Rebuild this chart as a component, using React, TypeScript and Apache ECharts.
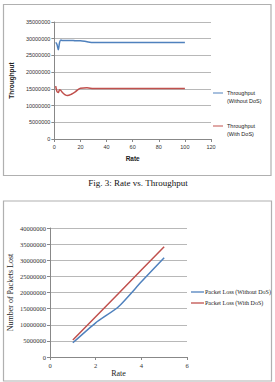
import React, { useEffect, useRef } from "react";
import * as echarts from "echarts";

const rateTop = [1, 2, 3, 4, 5, 6, 8, 10, 13, 16, 20, 25, 30, 40, 50, 60, 70, 80, 90, 100];
const throughputWithout = [
  28900000, 28300000, 26700000, 28900000, 29600000, 29500000, 29500000, 29500000, 29500000, 29400000,
  29400000, 29100000, 28900000, 28900000, 28900000, 28900000, 28900000, 28900000, 28900000, 28900000,
];
const throughputWith = [
  15800000, 14200000, 13900000, 14700000, 14500000, 14000000, 13300000, 13000000, 13400000, 14100000,
  15200000, 15300000, 15100000, 15100000, 15100000, 15100000, 15100000, 15100000, 15100000, 15100000,
];
const topLegend = ["Throughput\n(Without DoS)", "Throughput\n(With DoS)"];

const rateBottom = [1, 2, 3, 4, 5];
const lossWithout = [4400000, 10600000, 15600000, 23300000, 30800000];
const lossWith = [5300000, 12500000, 19700000, 27000000, 34200000];
const bottomLegend = ["Packet Loss (Without DoS)", "Packet Loss (With DoS)"];

const caption = "Fig. 3: Rate vs. Throughput";

const BLUE = "#4F81BD";
const RED = "#C0504D";
const GRID = "#b8b8b8";
const SANS = "'Liberation Sans', Arial, sans-serif";
const SERIF = "'Liberation Serif', 'Times New Roman', serif";
const plain = (v: number) => String(v);
const LINE_ICON = "path://M0,0 L10,0 L10,1 L0,1 Z";

export default function App() {
  const ref = useRef<HTMLDivElement>(null);
  useEffect(() => {
    if (!ref.current) return;
    const chart = echarts.init(ref.current, undefined, { renderer: "svg" });
    const pair = (xs: number[], ys: number[]) => xs.map((x, i) => [x, ys[i]]);
    chart.setOption({
      animation: false,
      backgroundColor: "#ffffff",
      grid: [
        { left: 49, right: 64, top: 22, bottom: 243, containLabel: false },
        { left: 50, right: 88, top: 228, bottom: 25, containLabel: false },
      ],
      legend: [
        {
          data: [topLegend[0], topLegend[1]],
          orient: "vertical",
          left: 208,
          top: 76,
          itemWidth: 10,
          itemHeight: 1.5,
          itemGap: 9,
          icon: LINE_ICON,
          textStyle: { fontFamily: SANS, fontSize: 5.5, color: "#222", lineHeight: 8, padding: [0, 0, 0, -1] },
          formatter: (n: string) => "\n" + n,
        },
        {
          data: [bottomLegend[0], bottomLegend[1]],
          orient: "vertical",
          left: 186,
          top: 284,
          itemWidth: 13,
          itemHeight: 1.5,
          itemGap: 5,
          icon: LINE_ICON,
          textStyle: { fontFamily: SERIF, fontSize: 6, color: "#222", padding: [0, 0, 0, -4] },
        },
      ],
      xAxis: [
        {
          gridIndex: 0,
          type: "value",
          min: 0,
          max: 120,
          interval: 20,
          name: "Rate",
          nameLocation: "middle",
          nameGap: 16,
          nameTextStyle: { fontFamily: SANS, fontSize: 6.5, fontWeight: "bold", color: "#222" },
          axisLine: { lineStyle: { color: "#888", width: 1 } },
          axisTick: { show: true, length: 3, lineStyle: { color: "#888" } },
          axisLabel: { fontFamily: SANS, fontSize: 5.5, color: "#333", margin: 5, formatter: plain },
          splitLine: { show: false },
        },
        {
          gridIndex: 1,
          type: "value",
          min: 0,
          max: 6,
          interval: 2,
          name: "Rate",
          nameLocation: "middle",
          nameGap: 11,
          nameTextStyle: { fontFamily: SERIF, fontSize: 8, color: "#222" },
          axisLine: { lineStyle: { color: "#888", width: 1 } },
          axisTick: { show: true, length: 3, lineStyle: { color: "#888" } },
          axisLabel: { fontFamily: SERIF, fontSize: 6.5, color: "#333", margin: 5, formatter: plain },
          splitLine: { show: false },
        },
      ],
      yAxis: [
        {
          gridIndex: 0,
          type: "value",
          min: 0,
          max: 35000000,
          interval: 5000000,
          name: "Throughput",
          nameLocation: "middle",
          nameGap: 35,
          nameTextStyle: { fontFamily: SANS, fontSize: 6.5, fontWeight: "bold", color: "#222" },
          axisLine: { show: true, lineStyle: { color: "#888", width: 1 } },
          axisTick: { show: true, length: 3, lineStyle: { color: "#888" } },
          axisLabel: { fontFamily: SANS, fontSize: 5.5, color: "#333", margin: 4, formatter: plain },
          splitLine: { show: true, lineStyle: { color: GRID, width: 1 } },
        },
        {
          gridIndex: 1,
          type: "value",
          min: 0,
          max: 40000000,
          interval: 5000000,
          name: "Number of Packets Lost",
          nameLocation: "middle",
          nameGap: 36,
          nameTextStyle: { fontFamily: SERIF, fontSize: 8, color: "#222" },
          axisLine: { show: true, lineStyle: { color: "#888", width: 1 } },
          axisTick: { show: true, length: 3, lineStyle: { color: "#888" } },
          axisLabel: { fontFamily: SERIF, fontSize: 6.5, color: "#333", margin: 4, formatter: plain },
          splitLine: { show: true, lineStyle: { color: GRID, width: 1 } },
        },
      ],
      series: [
        {
          name: topLegend[0],
          type: "line",
          xAxisIndex: 0,
          yAxisIndex: 0,
          data: pair(rateTop, throughputWithout),
          smooth: 0.3,
          showSymbol: false,
          lineStyle: { color: BLUE, width: 1.5 },
          itemStyle: { color: BLUE },
        },
        {
          name: topLegend[1],
          type: "line",
          xAxisIndex: 0,
          yAxisIndex: 0,
          data: pair(rateTop, throughputWith),
          smooth: 0.3,
          showSymbol: false,
          lineStyle: { color: RED, width: 1.5 },
          itemStyle: { color: RED },
        },
        {
          name: bottomLegend[0],
          type: "line",
          xAxisIndex: 1,
          yAxisIndex: 1,
          data: pair(rateBottom, lossWithout),
          smooth: 0.2,
          showSymbol: false,
          lineStyle: { color: BLUE, width: 1.5 },
          itemStyle: { color: BLUE },
        },
        {
          name: bottomLegend[1],
          type: "line",
          xAxisIndex: 1,
          yAxisIndex: 1,
          data: pair(rateBottom, lossWith),
          showSymbol: false,
          lineStyle: { color: RED, width: 1.5 },
          itemStyle: { color: RED },
        },
      ],
      graphic: [
        {
          type: "rect",
          shape: { x: 3.5, y: 4.5, width: 267.5, height: 171 },
          style: { fill: "none", stroke: "#b0b0b0", lineWidth: 1.2 },
          silent: true,
        },
        {
          type: "rect",
          shape: { x: 3.5, y: 201, width: 268, height: 180 },
          style: { fill: "none", stroke: "#b0b0b0", lineWidth: 1.2 },
          silent: true,
        },
        {
          type: "text",
          x: 138,
          y: 183,
          style: {
            text: caption,
            fontFamily: SERIF,
            fontSize: 9,
            fontWeight: "normal",
            fill: "#111",
            align: "center",
            verticalAlign: "middle",
          },
          silent: true,
        },
      ],
    });
    return () => chart.dispose();
  }, []);
  return (
    <div
      ref={ref}
      style={{ position: "fixed", left: 0, top: 0, width: 275, height: 382 }}
    />
  );
}
